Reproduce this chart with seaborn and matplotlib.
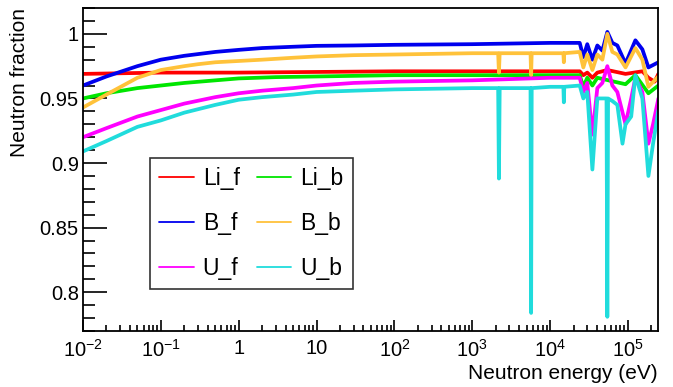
import numpy as np
import pandas as pd
import matplotlib
matplotlib.use("Agg")
import matplotlib.pyplot as plt
import seaborn as sns
from matplotlib.ticker import LogLocator, MultipleLocator, FixedLocator, FixedFormatter, NullFormatter

# ---------------- data ----------------
E_Li_f = [1e-2, 0.1, 1, 100, 1e4, 2.4e4, 2.67e4, 3.0e4, 3.49e4, 4.04e4, 5.43e4, 9.3e4, 1.53e5, 1.83e5, 2.2e5, 2.46e5]
F_Li_f = [0.969, 0.970, 0.970, 0.971, 0.971, 0.971, 0.968, 0.970, 0.966, 0.970, 0.972, 0.969, 0.971, 0.966, 0.963, 0.969]

E_Li_b = [1e-2, 2e-2, 5e-2, 0.1, 0.2, 0.5, 1, 3, 10, 100, 1e4, 2.4e4, 2.67e4, 3.0e4, 3.49e4, 4.04e4, 9.3e4, 1.245e5, 1.83e5, 2.46e5]
F_Li_b = [0.950, 0.954, 0.958, 0.960, 0.962, 0.964, 0.9655, 0.9665, 0.967, 0.968, 0.968, 0.968, 0.959, 0.966, 0.960, 0.966, 0.961, 0.968, 0.954, 0.960]

E_B_f = [1e-2, 2e-2, 5e-2, 0.1, 0.2, 0.5, 1, 2, 5, 10, 30, 100, 1000, 1e4, 2.4e4, 2.67e4, 3.0e4, 3.49e4,
         4.04e4, 4.69e4, 5.43e4, 6.3e4, 7.3e4, 9.3e4, 1.245e5, 1.53e5, 1.83e5, 2.46e5]
F_B_f = [0.960, 0.967, 0.975, 0.980, 0.983, 0.986, 0.9876, 0.989, 0.990, 0.9907, 0.991, 0.9915, 0.992, 0.993, 0.993, 0.982, 0.992, 0.980,
         0.991, 0.987, 1.0015, 0.993, 0.991, 0.977, 0.995, 0.988, 0.974, 0.978]

E_B_b = [1e-2, 2e-2, 5e-2, 0.1, 0.2, 0.3, 0.5, 1, 2, 5, 10, 30, 100, 1000, 2.15e3, 2.2e3, 2.25e3, 5.6e3, 5.7e3, 5.8e3,
         1.48e4, 1.5e4, 1.52e4, 2.4e4, 2.67e4, 3.0e4, 3.49e4, 4.04e4, 4.69e4, 5.43e4, 6.3e4, 7.3e4, 9.3e4,
         1.245e5, 1.53e5, 1.83e5, 2.46e5]
F_B_b = [0.943, 0.953, 0.966, 0.972, 0.975, 0.9765, 0.978, 0.979, 0.980, 0.9815, 0.9825, 0.9835, 0.984, 0.985, 0.985, 0.970, 0.985, 0.985, 0.968, 0.985,
         0.985, 0.978, 0.985, 0.986, 0.974, 0.984, 0.972, 0.984, 0.980, 1.000, 0.986, 0.984, 0.974,
         0.989, 0.980, 0.959, 0.967]

E_U_f = [1e-2, 2e-2, 5e-2, 0.1, 0.2, 0.5, 1, 2, 5, 10, 30, 100, 1000, 1e4, 2.4e4, 2.67e4, 3.0e4, 3.49e4, 4.04e4,
         4.69e4, 5.43e4, 6.3e4, 7.3e4, 9.3e4, 1.1e5, 1.245e5, 1.53e5, 1.83e5, 2.1e5, 2.46e5]
F_U_f = [0.920, 0.927, 0.936, 0.941, 0.946, 0.951, 0.954, 0.956, 0.958, 0.960, 0.962, 0.963, 0.964, 0.966, 0.966, 0.955, 0.962, 0.922, 0.958,
         0.962, 0.975, 0.960, 0.955, 0.930, 0.950, 0.966, 0.955, 0.915, 0.930, 0.950]

E_U_b = [1e-2, 2e-2, 5e-2, 0.1, 0.2, 0.5, 1, 2, 5, 10, 30, 100, 1000, 2.15e3, 2.2e3, 2.25e3, 5.6e3, 5.7e3, 5.8e3,
         1e4, 1.48e4, 1.5e4, 1.52e4, 2.4e4, 2.67e4, 3.0e4, 3.49e4, 4.04e4, 4.69e4, 5.3e4, 5.43e4, 5.55e4,
         6.3e4, 7.3e4, 8.5e4, 9.3e4, 1.1e5, 1.245e5, 1.53e5, 1.83e5, 2.1e5, 2.46e5]
F_U_b = [0.909, 0.917, 0.928, 0.933, 0.939, 0.945, 0.949, 0.951, 0.953, 0.955, 0.956, 0.957, 0.958, 0.958, 0.888, 0.958, 0.958, 0.784, 0.958,
         0.959, 0.959, 0.947, 0.959, 0.960, 0.950, 0.955, 0.895, 0.950, 0.950, 0.950, 0.781, 0.950,
         0.948, 0.945, 0.915, 0.930, 0.936, 0.968, 0.950, 0.890, 0.915, 0.941]

series_names = ["Li_f", "Li_b", "B_f", "B_b", "U_f", "U_b"]
series_E = [E_Li_f, E_Li_b, E_B_f, E_B_b, E_U_f, E_U_b]
series_F = [F_Li_f, F_Li_b, F_B_f, F_B_b, F_U_f, F_U_b]
colors = {"Li_f": "#ff0000", "Li_b": "#00e600", "B_f": "#0000ee", "B_b": "#ffc23a",
          "U_f": "#ff00ff", "U_b": "#20dcdc"}

x_ticks = [1e-2, 1e-1, 1, 10, 1e2, 1e3, 1e4, 1e5]
x_ticklabels = [r"$10^{-2}$", r"$10^{-1}$", "1", "10", r"$10^{2}$", r"$10^{3}$", r"$10^{4}$", r"$10^{5}$"]
y_ticks = [0.8, 0.85, 0.9, 0.95, 1.0]
y_ticklabels = ["0.8", "0.85", "0.9", "0.95", "1"]

# ---------------- plotting ----------------
sns.set_style("white")
plt.rcParams['font.family'] = ['Liberation Sans', 'DejaVu Sans']
plt.rcParams['mathtext.fontset'] = 'custom'
plt.rcParams['mathtext.rm'] = 'Liberation Sans'
plt.rcParams['mathtext.it'] = 'Liberation Sans'
plt.rcParams['text.color'] = 'black'
plt.rcParams['axes.labelcolor'] = 'black'

fig = plt.figure(figsize=(6.73, 3.87), dpi=100)
ax = fig.add_axes([83/673, 56/387, 575/673, 323/387])

frames = []
for n, e, f in zip(series_names, series_E, series_F):
    frames.append(pd.DataFrame({"E": e, "F": f, "series": n}))
df = pd.concat(frames, ignore_index=True)

for n in series_names:
    sub = df[df["series"] == n]
    sns.lineplot(data=sub, x="E", y="F", color=colors[n], lw=2.7, ax=ax,
                 estimator=None, sort=False, label=n)

ax.set_xscale("log")
ax.set_xlim(1e-2, 2.43e5)
ax.set_ylim(0.77, 1.02)

ax.xaxis.set_major_locator(FixedLocator(x_ticks))
ax.xaxis.set_major_formatter(FixedFormatter(x_ticklabels))
ax.xaxis.set_minor_locator(LogLocator(base=10, subs=np.arange(2, 10), numticks=20))
ax.xaxis.set_minor_formatter(NullFormatter())
ax.yaxis.set_major_locator(FixedLocator(y_ticks))
ax.yaxis.set_major_formatter(FixedFormatter(y_ticklabels))
ax.yaxis.set_minor_locator(MultipleLocator(0.01))

ax.tick_params(axis="both", which="both", direction="in", colors="black", labelsize=14.5,
               top=False, right=False, bottom=True, left=True)
ax.tick_params(axis="y", which="major", length=17, width=1.2, pad=3)
ax.tick_params(axis="y", which="minor", length=8.5, width=1.2)
ax.tick_params(axis="x", which="major", length=8, width=1.2, pad=6)
ax.tick_params(axis="x", which="minor", length=4.5, width=1.2)
for s in ax.spines.values():
    s.set_color("black")
    s.set_linewidth(1.3)

ax.set_xlabel("Neutron energy (eV)", fontsize=15, ha="right", x=1.0, labelpad=2)
ax.set_ylabel("Neutron fraction", fontsize=15, ha="right", y=1.0, labelpad=8)

handles, labels = ax.get_legend_handles_labels()
hmap = dict(zip(labels, handles))
order = ["Li_f", "B_f", "U_f", "Li_b", "B_b", "U_b"]
leg = ax.legend([hmap[o] for o in order], order, ncol=2, loc="upper left",
                bbox_to_anchor=((150 - 83) / 575, (331 - 158) / 323),
                fontsize=16.5, frameon=True, fancybox=False, edgecolor="black",
                handlelength=1.5, handletextpad=0.4, columnspacing=0.75,
                labelspacing=0.95, borderpad=0.4, borderaxespad=0.0)
leg.get_frame().set_linewidth(1.2)
for l in leg.get_lines():
    l.set_linewidth(1.3)

fig.savefig("out.png", dpi=100)
